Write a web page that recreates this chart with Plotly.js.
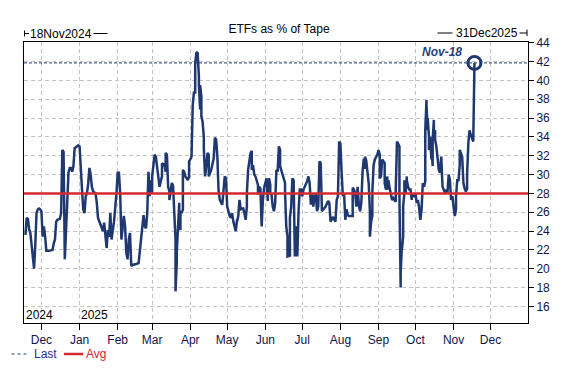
<!DOCTYPE html>
<html><head><meta charset="utf-8">
<script src="https://cdn.plot.ly/plotly-3.0.1.min.js"></script>
<style>html,body{margin:0;padding:0;background:#fff}#chart{width:576px;height:376px}</style>
</head><body><div id="chart"></div>
<script>
const dates = [
'2024-11-18','2024-11-19','2024-11-20','2024-11-21','2024-11-22','2024-11-23','2024-11-24','2024-11-25','2024-11-26','2024-11-27','2024-11-28','2024-11-29','2024-11-30',
'2024-12-01','2024-12-02','2024-12-03','2024-12-04','2024-12-05','2024-12-07','2024-12-10','2024-12-11','2024-12-12','2024-12-13','2024-12-14','2024-12-16','2024-12-17','2024-12-18','2024-12-19','2024-12-20','2024-12-21','2024-12-22','2024-12-23','2024-12-24','2024-12-25','2024-12-26','2024-12-27','2024-12-28','2024-12-29','2024-12-31',
'2025-01-01','2025-01-02','2025-01-03','2025-01-04','2025-01-05','2025-01-06','2025-01-07','2025-01-08','2025-01-09','2025-01-10','2025-01-11','2025-01-12','2025-01-14','2025-01-15','2025-01-16','2025-01-18','2025-01-20','2025-01-21','2025-01-22','2025-01-23','2025-01-24','2025-01-25','2025-01-26','2025-01-27','2025-01-29','2025-01-30','2025-01-31',
'2025-02-01','2025-02-02','2025-02-03','2025-02-04','2025-02-06','2025-02-07','2025-02-08','2025-02-09','2025-02-10','2025-02-11','2025-02-12','2025-02-13','2025-02-16','2025-02-18','2025-02-19','2025-02-20','2025-02-21','2025-02-22','2025-02-23','2025-02-24','2025-02-25','2025-02-26','2025-02-27','2025-02-27','2025-02-28',
'2025-03-01','2025-03-01','2025-03-02','2025-03-03','2025-03-04','2025-03-05','2025-03-06','2025-03-07','2025-03-08','2025-03-09','2025-03-09','2025-03-11','2025-03-12','2025-03-12','2025-03-13','2025-03-14','2025-03-15','2025-03-15','2025-03-16','2025-03-17','2025-03-18','2025-03-19','2025-03-19','2025-03-20','2025-03-20','2025-03-21','2025-03-21','2025-03-23','2025-03-23','2025-03-24','2025-03-24','2025-03-25','2025-03-26','2025-03-26','2025-03-27','2025-03-28','2025-03-30','2025-03-31','2025-03-31',
'2025-04-01','2025-04-02','2025-04-03','2025-04-04','2025-04-05','2025-04-05','2025-04-06','2025-04-07','2025-04-08','2025-04-08','2025-04-09','2025-04-09','2025-04-10','2025-04-10','2025-04-11','2025-04-12','2025-04-12','2025-04-13','2025-04-14','2025-04-15','2025-04-16','2025-04-16','2025-04-18','2025-04-19','2025-04-20','2025-04-21','2025-04-22','2025-04-23','2025-04-24','2025-04-25','2025-04-26','2025-04-27','2025-04-29','2025-04-30',
'2025-05-01','2025-05-02','2025-05-03','2025-05-04','2025-05-05','2025-05-06','2025-05-07','2025-05-08','2025-05-09','2025-05-09','2025-05-10','2025-05-11','2025-05-12','2025-05-14','2025-05-15','2025-05-16','2025-05-17','2025-05-17','2025-05-18','2025-05-20','2025-05-21','2025-05-21','2025-05-22','2025-05-23','2025-05-24','2025-05-26','2025-05-26','2025-05-27','2025-05-28','2025-05-29','2025-05-30','2025-05-31',
'2025-06-02','2025-06-03','2025-06-03','2025-06-04','2025-06-05','2025-06-05','2025-06-06','2025-06-07','2025-06-08','2025-06-09','2025-06-10','2025-06-11','2025-06-12','2025-06-13','2025-06-13','2025-06-15','2025-06-16','2025-06-17','2025-06-17','2025-06-18','2025-06-19','2025-06-19','2025-06-21','2025-06-21','2025-06-22','2025-06-23','2025-06-24','2025-06-25','2025-06-25','2025-06-26','2025-06-27','2025-06-28','2025-06-29','2025-06-30',
'2025-07-01','2025-07-02','2025-07-04','2025-07-05','2025-07-06','2025-07-07','2025-07-08','2025-07-09','2025-07-10','2025-07-11','2025-07-12','2025-07-13','2025-07-14','2025-07-15','2025-07-16','2025-07-17','2025-07-18','2025-07-20','2025-07-22','2025-07-23','2025-07-24','2025-07-25','2025-07-26','2025-07-27','2025-07-28','2025-07-29','2025-07-30','2025-07-31',
'2025-08-01','2025-08-02','2025-08-03','2025-08-04','2025-08-05','2025-08-06','2025-08-07','2025-08-08','2025-08-09','2025-08-11','2025-08-11','2025-08-12','2025-08-13','2025-08-14','2025-08-15','2025-08-16','2025-08-17','2025-08-18','2025-08-19','2025-08-20','2025-08-21','2025-08-21','2025-08-22','2025-08-23','2025-08-24','2025-08-25','2025-08-25','2025-08-26','2025-08-27','2025-08-27','2025-08-28','2025-08-29','2025-08-31',
'2025-09-01','2025-09-02','2025-09-02','2025-09-03','2025-09-04','2025-09-05','2025-09-06','2025-09-06','2025-09-07','2025-09-08','2025-09-08','2025-09-09','2025-09-09','2025-09-10','2025-09-12','2025-09-13','2025-09-14','2025-09-15','2025-09-15','2025-09-16','2025-09-18','2025-09-18','2025-09-19','2025-09-19','2025-09-20','2025-09-20','2025-09-21','2025-09-21','2025-09-22','2025-09-22','2025-09-23','2025-09-24','2025-09-24','2025-09-25','2025-09-26','2025-09-27','2025-09-28','2025-09-28','2025-09-29',
'2025-10-01','2025-10-01','2025-10-02','2025-10-03','2025-10-04','2025-10-05','2025-10-06','2025-10-07','2025-10-08','2025-10-09','2025-10-09','2025-10-10','2025-10-10','2025-10-11','2025-10-11','2025-10-12','2025-10-12','2025-10-13','2025-10-14','2025-10-14','2025-10-15','2025-10-15','2025-10-16','2025-10-16','2025-10-17','2025-10-17','2025-10-18','2025-10-20','2025-10-21','2025-10-22','2025-10-23','2025-10-24','2025-10-25','2025-10-26','2025-10-27','2025-10-28','2025-10-29','2025-10-30','2025-10-31',
'2025-11-01','2025-11-02','2025-11-03','2025-11-03','2025-11-04','2025-11-05','2025-11-06','2025-11-06','2025-11-08','2025-11-09','2025-11-10','2025-11-11','2025-11-12','2025-11-12','2025-11-13','2025-11-14','2025-11-15','2025-11-16','2025-11-17','2025-11-18'
];
const values = [
23.6,25.4,25.3,24.2,23.8,22.4,21.0,20.0,22.5,25.9,26.3,26.4,26.3,
26.1,23.4,24.5,23.4,21.9,21.9,22.0,22.7,23.1,25.0,25.2,25.3,25.9,32.6,32.4,21.0,24.5,27.3,30.2,30.7,30.7,30.3,30.9,32.8,32.9,33.1,
33.0,31.2,28.4,26.3,25.9,27.7,28.0,29.0,30.7,30.0,28.7,28.2,28.0,27.0,25.4,24.7,24.0,24.9,23.8,22.2,24.1,23.4,25.9,23.1,25.0,26.4,28.0,
30.2,30.2,28.0,23.1,25.6,24.5,21.7,21.0,23.1,23.8,20.3,20.4,20.5,20.6,21.9,23.1,24.9,25.7,24.5,24.3,25.9,30.3,27.7,29.4,28.0,
28.2,29.8,30.9,32.1,31.9,30.7,30.2,28.7,29.3,29.8,31.2,31.0,30.3,32.3,32.1,28.7,28.2,27.3,28.2,29.1,28.8,27.0,25.9,23.1,17.6,20.6,21.7,27.0,26.3,24.1,26.1,25.9,26.3,30.5,30.3,29.8,29.4,29.8,31.4,
31.6,31.9,37.4,38.8,38.6,41.8,43.0,42.9,40.4,39.5,36.9,39.5,38.3,36.2,35.6,34.0,32.8,29.8,30.9,32.3,32.1,29.8,30.5,31.0,31.7,33.9,33.7,31.9,28.2,27.3,27.0,26.8,29.8,29.6,
26.6,25.9,25.6,25.4,25.9,25.0,24.5,24.0,25.2,25.0,25.6,27.3,26.3,26.4,25.9,25.2,26.6,28.0,30.5,32.3,32.5,30.5,31.0,30.0,29.8,28.9,27.9,28.7,28.5,24.5,27.3,28.6,
29.6,27.2,28.7,29.6,28.9,28.0,27.9,26.6,26.1,27.0,30.5,30.3,33.0,32.6,30.9,30.0,29.8,29.1,28.2,24.5,23.4,21.3,21.4,25.4,26.6,29.6,29.4,21.7,21.3,24.5,21.3,26.1,28.4,28.4,
27.7,28.4,28.9,29.3,29.8,29.1,26.8,27.9,26.6,27.7,28.0,26.1,26.6,31.4,31.2,26.1,26.3,26.6,27.2,27.0,25.0,25.2,25.5,25.2,25.0,27.3,27.7,33.5,
33.3,30.3,27.7,28.0,25.2,26.3,25.7,25.6,25.6,25.6,28.6,28.4,28.0,26.6,28.7,26.8,26.1,27.0,30.2,31.7,30.6,31.9,31.5,29.8,29.1,26.1,23.4,25.0,25.6,28.2,31.0,31.6,32.1,
32.6,32.1,29.6,29.8,31.6,31.4,31.2,29.1,28.4,29.0,29.8,28.4,29.4,28.6,27.3,27.5,27.3,27.1,28.4,33.5,33.0,27.7,18.0,19.6,22.4,22.0,23.4,26.6,28.0,29.4,28.0,29.8,29.4,28.7,28.4,28.4,27.3,28.0,27.7,
27.7,28.0,27.0,27.3,26.5,25.2,26.3,29.1,28.7,29.3,34.7,37.9,37.4,34.7,36.0,34.0,32.6,34.0,31.6,33.3,30.9,33.7,35.8,34.4,34.7,33.7,33.0,30.5,30.2,31.9,28.7,28.4,28.0,28.4,28.0,30.0,29.4,27.3,27.7,
26.6,25.6,26.3,27.7,29.4,29.4,31.0,32.6,31.9,29.1,28.5,28.2,28.5,30.0,33.3,34.7,34.2,33.7,33.5,41.85
];
const avgValue = 28.0;
const monthTickDates = ['2024-12-01','2025-01-01','2025-02-01','2025-03-01','2025-04-01','2025-05-01','2025-06-01','2025-07-01','2025-08-01','2025-09-01','2025-10-01','2025-11-01','2025-12-01'];
const monthTickLabels = ['Dec','Jan','Feb','Mar','Apr','May','Jun','Jul','Aug','Sep','Oct','Nov','Dec'];
const yTickValues = [16,18,20,22,24,26,28,30,32,34,36,38,40,42,44];
const yearLabels = ['2024','2025'];
const yearLabelDates = ['2024-11-18','2025-01-01'];
const titleText = 'ETFs as % of Tape';
const startLabel = '18Nov2024';
const endLabel = '31Dec2025';
const lastLabel = 'Nov-18';
const legendLabels = ['Last','Avg'];

const W = 576, H = 376;
const M = {l:24, r:48, t:42, b:53};
const PW = W - M.l - M.r, PH = H - M.t - M.b;
const px = p => (p - M.l) / PW;
const py = p => (H - M.b - p) / PH;

const NAVY = '#1f3870';
const RED = '#d42a2f';
const TICKC = '#14144a';
const FONT = 'Arial, "Liberation Sans", sans-serif';
const xRange = ['2024-11-16 20:00', '2025-12-31 12:00'];
const yRange = [14.24, 44.07];

const lastDate = dates[dates.length - 1];
const lastVal = values[values.length - 1];

const traces = [
  {x: xRange, y: [lastVal, lastVal], mode: 'lines', line: {color: NAVY, width: 1, dash: '3px,2px'}, hoverinfo: 'skip'},
  {x: dates, y: values, mode: 'lines', line: {color: NAVY, width: 2.5}},
  {x: xRange, y: [avgValue, avgValue], mode: 'lines', line: {color: RED, width: 2.5}, hoverinfo: 'skip'},
  {x: [lastDate], y: [lastVal], mode: 'markers', marker: {symbol: 'circle-open', size: 13, color: NAVY, line: {width: 3, color: NAVY}}}
];

const blk = {color: '#000', width: 1};
const shapes = [
  {type: 'line', xref: 'paper', yref: 'paper', x0: px(24.5), x1: px(24.5), y0: py(30.5), y1: py(36.5), line: blk},
  {type: 'line', xref: 'paper', yref: 'paper', x0: px(24.5), x1: px(29), y0: py(33.5), y1: py(33.5), line: blk},
  {type: 'line', xref: 'paper', yref: 'paper', x0: px(93.5), x1: px(107.5), y0: py(33.5), y1: py(33.5), line: blk},
  {type: 'line', xref: 'paper', yref: 'paper', x0: px(437.5), x1: px(452.5), y0: py(33), y1: py(33), line: blk},
  {type: 'line', xref: 'paper', yref: 'paper', x0: px(519.5), x1: px(527), y0: py(33), y1: py(33), line: blk},
  {type: 'line', xref: 'paper', yref: 'paper', x0: px(527), x1: px(527), y0: py(29.5), y1: py(36), line: blk},
  {type: 'line', xref: 'paper', yref: 'paper', x0: px(11.5), x1: px(27), y0: py(354), y1: py(354), line: {color: NAVY, width: 1, dash: '3px,3px'}},
  {type: 'line', xref: 'paper', yref: 'paper', x0: px(64), x1: px(83), y0: py(354), y1: py(354), line: {color: RED, width: 2.5}}
];

const annotations = [
  {text: startLabel, xref: 'paper', yref: 'paper', x: px(29), y: py(33.5), xanchor: 'left', yanchor: 'middle', showarrow: false, borderpad: 0, font: {size: 12, color: '#000'}},
  {text: endLabel, xref: 'paper', yref: 'paper', x: px(519), y: py(33), xanchor: 'right', yanchor: 'middle', showarrow: false, borderpad: 0, font: {size: 12, color: '#000'}},
  {text: '<b><i>' + lastLabel + '</i></b>', x: lastDate, y: lastVal, xref: 'x', yref: 'y', xshift: -32, yshift: 11, showarrow: false, font: {size: 12, color: '#2a3f7a'}},
  {text: yearLabels[0], x: yearLabelDates[0], xref: 'x', yref: 'paper', y: 0, yshift: 8.5, xanchor: 'left', yanchor: 'middle', showarrow: false, borderpad: 0, font: {size: 12, color: '#000'}},
  {text: yearLabels[1], x: yearLabelDates[1], xref: 'x', yref: 'paper', y: 0, yshift: 8.5, xanchor: 'left', yanchor: 'middle', showarrow: false, borderpad: 0, font: {size: 12, color: '#000'}},
  {text: legendLabels[0], xref: 'paper', yref: 'paper', x: px(32.5), y: py(354), xanchor: 'left', yanchor: 'middle', showarrow: false, borderpad: 0, font: {size: 12, color: '#2b2b8c'}},
  {text: legendLabels[1], xref: 'paper', yref: 'paper', x: px(85), y: py(354), xanchor: 'left', yanchor: 'middle', showarrow: false, borderpad: 0, font: {size: 12, color: '#e0202e'}}
];

const grid = {showgrid: true, gridcolor: '#c4c4c4', gridwidth: 1, griddash: '4px,3px'};
const layout = {
  width: W, height: H, margin: M,
  paper_bgcolor: '#fff', plot_bgcolor: '#fff',
  font: {family: FONT, size: 12, color: '#000'},
  showlegend: false,
  title: {text: titleText, x: 279 / W, xanchor: 'center', y: 1 - 28.3 / H, yanchor: 'middle', font: {family: FONT, size: 12, color: '#000'}},
  xaxis: Object.assign({
    type: 'date', range: xRange, tickmode: 'array', tickvals: monthTickDates, ticktext: monthTickLabels,
    ticks: 'outside', ticklen: 6, tickwidth: 1, tickcolor: '#000',
    showline: true, linecolor: '#000', linewidth: 1, mirror: true, zeroline: false,
    tickfont: {family: FONT, size: 12, color: TICKC}, fixedrange: true
  }, grid),
  yaxis: Object.assign({
    side: 'right', range: yRange, tickmode: 'array', tickvals: yTickValues,
    ticks: 'outside', ticklen: 5, tickwidth: 1, tickcolor: '#000',
    showline: true, linecolor: '#000', linewidth: 1, mirror: true, zeroline: false,
    tickfont: {family: FONT, size: 12, color: TICKC}, fixedrange: true
  }, grid),
  shapes: shapes,
  annotations: annotations
};

Plotly.newPlot('chart', traces, layout, {staticPlot: true, displayModeBar: false});
</script>
</body></html>
